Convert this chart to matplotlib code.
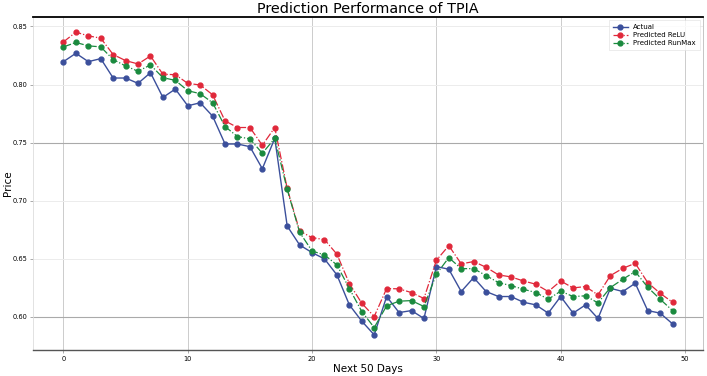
import matplotlib
matplotlib.use("Agg")
import matplotlib.pyplot as plt
import numpy as np

days = list(range(50))
actual = [0.8197, 0.8269, 0.8197, 0.8223, 0.8056, 0.8056, 0.8010, 0.8102, 0.7889, 0.7961,
          0.7817, 0.7843, 0.7728, 0.7488, 0.7488, 0.7465, 0.7275, 0.7537, 0.6782, 0.6619,
          0.6553, 0.6499, 0.6361, 0.6103, 0.5963, 0.5845, 0.6175, 0.6037, 0.6054, 0.5986,
          0.6433, 0.6410, 0.6218, 0.6338, 0.6218, 0.6175, 0.6175, 0.6126, 0.6103, 0.6032,
          0.6175, 0.6032, 0.6103, 0.5986, 0.6246, 0.6218, 0.6289, 0.6054, 0.6032, 0.5940]
pred_relu = [0.8367, 0.8451, 0.8419, 0.8399, 0.8258, 0.8206, 0.8177, 0.8246, 0.8088, 0.8085,
             0.8010, 0.7996, 0.7912, 0.7687, 0.7630, 0.7630, 0.7477, 0.7630, 0.7105, 0.6739,
             0.6682, 0.6665, 0.6539, 0.6287, 0.6117, 0.6003, 0.6244, 0.6241, 0.6209, 0.6158,
             0.6487, 0.6613, 0.6456, 0.6476, 0.6427, 0.6361, 0.6344, 0.6309, 0.6281, 0.6218,
             0.6309, 0.6249, 0.6261, 0.6189, 0.6355, 0.6418, 0.6461, 0.6295, 0.6203, 0.6126]
pred_runmax = [0.8324, 0.8362, 0.8333, 0.8324, 0.8215, 0.8160, 0.8114, 0.8169, 0.8059, 0.8036,
               0.7947, 0.7921, 0.7843, 0.7638, 0.7552, 0.7532, 0.7408, 0.7537, 0.7097, 0.6728,
               0.6567, 0.6533, 0.6447, 0.6244, 0.6046, 0.5908, 0.6095, 0.6135, 0.6140, 0.6089,
               0.6367, 0.6510, 0.6415, 0.6415, 0.6355, 0.6295, 0.6269, 0.6238, 0.6209, 0.6152,
               0.6221, 0.6175, 0.6181, 0.6120, 0.6252, 0.6324, 0.6390, 0.6255, 0.6152, 0.6054]

fig = plt.figure(figsize=(7.07, 3.76), dpi=100)
ax = fig.add_axes([33/707, 1-350/376, 670/707, 333/376])

ax.plot(days, actual, color="#3b4f9b", linestyle="-", marker="o", markersize=3.5,
        linewidth=1.0, label="Actual")
ax.plot(days, pred_relu, color="#e0283a", linestyle="-.", marker="o", markersize=3.5,
        linewidth=0.9, label="Predicted ReLU")
ax.plot(days, pred_runmax, color="#1a8a3e", linestyle="-.", marker="o", markersize=3.5,
        linewidth=0.9, label="Predicted RunMax")

ax.set_title("Prediction Performance of TPIA", fontsize=10.4, pad=3)
ax.set_xlabel("Next 50 Days", fontsize=7.5, labelpad=2)
ax.set_ylabel("Price", fontsize=7.5)
ax.yaxis.set_label_coords(-0.03, 0.5)
ax.tick_params(labelsize=4.8, length=2, width=0.5, color="#888888", pad=2)
ax.set_yticks([0.60, 0.65, 0.70, 0.75, 0.80, 0.85])
ax.set_xticks([0, 10, 20, 30, 40, 50])

ax.grid(True, color="#cccccc", linewidth=0.7)
ax.set_axisbelow(True)
for tick_val, gl in zip(ax.get_yticks(), ax.yaxis.get_gridlines()):
    if abs(tick_val - 0.75) < 1e-6 or abs(tick_val - 0.60) < 1e-6:
        gl.set_color("#aaaaaa")
        gl.set_linewidth(0.8)
    else:
        gl.set_color("#ececec")

ax.spines["top"].set_color("black")
ax.spines["top"].set_linewidth(1.3)
ax.spines["bottom"].set_color("#555555")
ax.spines["bottom"].set_linewidth(1.0)
ax.spines["left"].set_color("#dddddd")
ax.spines["left"].set_linewidth(0.6)
ax.spines["right"].set_color("#bbbbbb")
ax.spines["right"].set_linewidth(0.6)

leg = ax.legend(loc="upper right", fontsize=5, frameon=True, fancybox=False,
                edgecolor="#dddddd", handlelength=2.2, borderpad=0.5, labelspacing=0.3)
leg.get_frame().set_linewidth(0.5)

fig.savefig("out.png", dpi=100)
